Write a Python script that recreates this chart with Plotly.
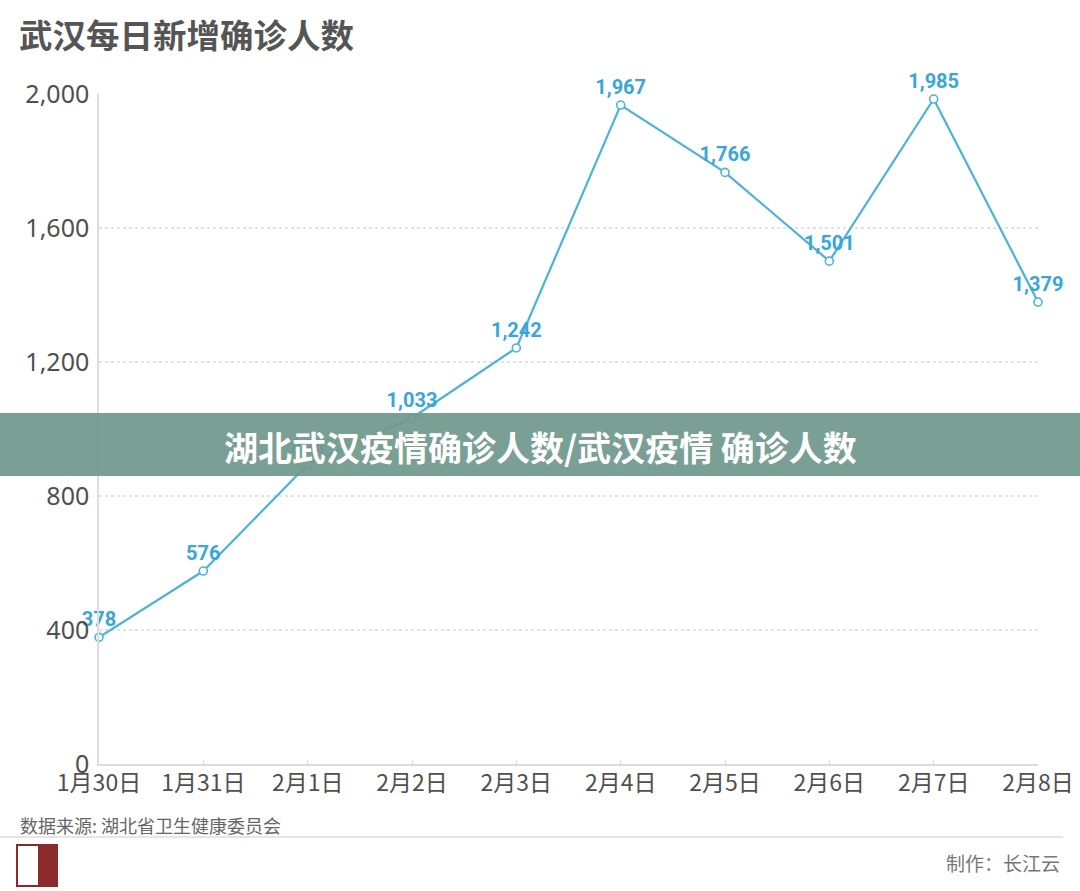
import plotly.graph_objects as go

dates = ["1月30日", "1月31日", "2月1日", "2月2日", "2月3日", "2月4日", "2月5日", "2月6日", "2月7日", "2月8日"]
new_cases = [378, 576, 894, 1033, 1242, 1967, 1766, 1501, 1985, 1379]
y_ticks = [0, 400, 800, 1200, 1600, 2000]
y_tick_text = ["0", "400", "800", "1,200", "1,600", "2,000"]

title_text = "武汉每日新增确诊人数"
banner_text = "湖北武汉疫情确诊人数/武汉疫情 确诊人数"
source_text = "数据来源: 湖北省卫生健康委员会"
credit_text = "制作：长江云"

CJK = "Noto Sans CJK SC"
line_color = "#4cb2d8"
label_color = "#3aa6d8"

fig = go.Figure()
fig.add_trace(go.Scatter(
    x=list(range(len(dates))), y=new_cases,
    mode="lines+markers+text",
    line=dict(color=line_color, width=2.2),
    marker=dict(size=8, color="white", line=dict(color=line_color, width=1.6)),
    text=[f"{v:,}" for v in new_cases],
    textposition="top center",
    textfont=dict(family="Roboto", size=20, color=label_color, weight="bold"),
    cliponaxis=False,
    hoverinfo="skip",
))

fig.update_layout(
    width=1080, height=891,
    margin=dict(l=99, r=42, t=94, b=127, autoexpand=False),
    paper_bgcolor="white", plot_bgcolor="white",
    showlegend=False,
    font=dict(family=CJK, color="#555555"),
    xaxis=dict(
        range=[0, len(dates) - 1],
        tickmode="array", tickvals=list(range(len(dates))), ticktext=dates,
        tickfont=dict(family=CJK, size=23, color="#505050"),
        showgrid=False, zeroline=False, automargin=False,
        showline=True, linecolor="#dcdcdc", linewidth=1.5,
        ticks="inside", ticklen=4, tickcolor="#dcdcdc", ticklabelstandoff=-2,
    ),
    yaxis=dict(
        range=[0, 2000],
        tickmode="array", tickvals=y_ticks, ticktext=y_tick_text,
        tickfont=dict(family="Noto Sans", size=25, color="#505050"),
        showgrid=True, gridcolor="#e2e2e2", griddash="dot", gridwidth=1.5,
        zeroline=False, automargin=False,
        showline=True, linecolor="#dcdcdc", linewidth=1.5,
        ticks="", ticklabelstandoff=3,
    ),
)

# title
fig.add_annotation(text=title_text, xref="paper", yref="paper", x=0, y=1,
                   xanchor="left", yanchor="middle", showarrow=False,
                   xshift=-82, yshift=61,
                   font=dict(family=CJK, size=33.5, color="#555555", weight="bold"))

# banner overlay
fig.add_shape(type="rect", xref="paper", yref="paper",
              x0=-99 / 939, x1=1 + 42 / 939,
              y0=(764 - 476) / 670, y1=(764 - 413) / 670,
              fillcolor="rgba(112,152,140,0.93)", line=dict(width=0), layer="above")
fig.add_annotation(text=banner_text, xref="paper", yref="paper",
                   x=(540 - 99) / 939, y=(764 - 447) / 670,
                   xanchor="center", yanchor="middle", showarrow=False,
                   font=dict(family=CJK, size=34, color="white", weight="bold"))

# source, separator, credit
fig.add_annotation(text=source_text, xref="paper", yref="paper",
                   x=(18 - 99) / 939, y=(764 - 825) / 670,
                   xanchor="left", yanchor="middle", showarrow=False,
                   font=dict(family=CJK, size=18, color="#666666"))
fig.add_shape(type="line", xref="paper", yref="paper",
              x0=(0 - 99) / 939, x1=(1063 - 99) / 939,
              y0=(764 - 837) / 670, y1=(764 - 837) / 670,
              line=dict(color="#dddddd", width=1.5))
fig.add_annotation(text=credit_text, xref="paper", yref="paper",
                   x=(1062 - 99) / 939, y=(764 - 862) / 670,
                   xanchor="right", yanchor="middle", showarrow=False,
                   font=dict(family=CJK, size=19, color="#777777"))

# small seal logo
fig.add_shape(type="rect", xref="paper", yref="paper",
              x0=(17 - 99) / 939, x1=(57 - 99) / 939,
              y0=(764 - 886) / 670, y1=(764 - 845) / 670,
              fillcolor="rgba(255,255,255,0)", line=dict(color="#8a2a2a", width=2))
fig.add_shape(type="rect", xref="paper", yref="paper",
              x0=(38 - 99) / 939, x1=(57 - 99) / 939,
              y0=(764 - 886) / 670, y1=(764 - 845) / 670,
              fillcolor="#8a2a2a", line=dict(width=0))

fig.write_html("out.html")
